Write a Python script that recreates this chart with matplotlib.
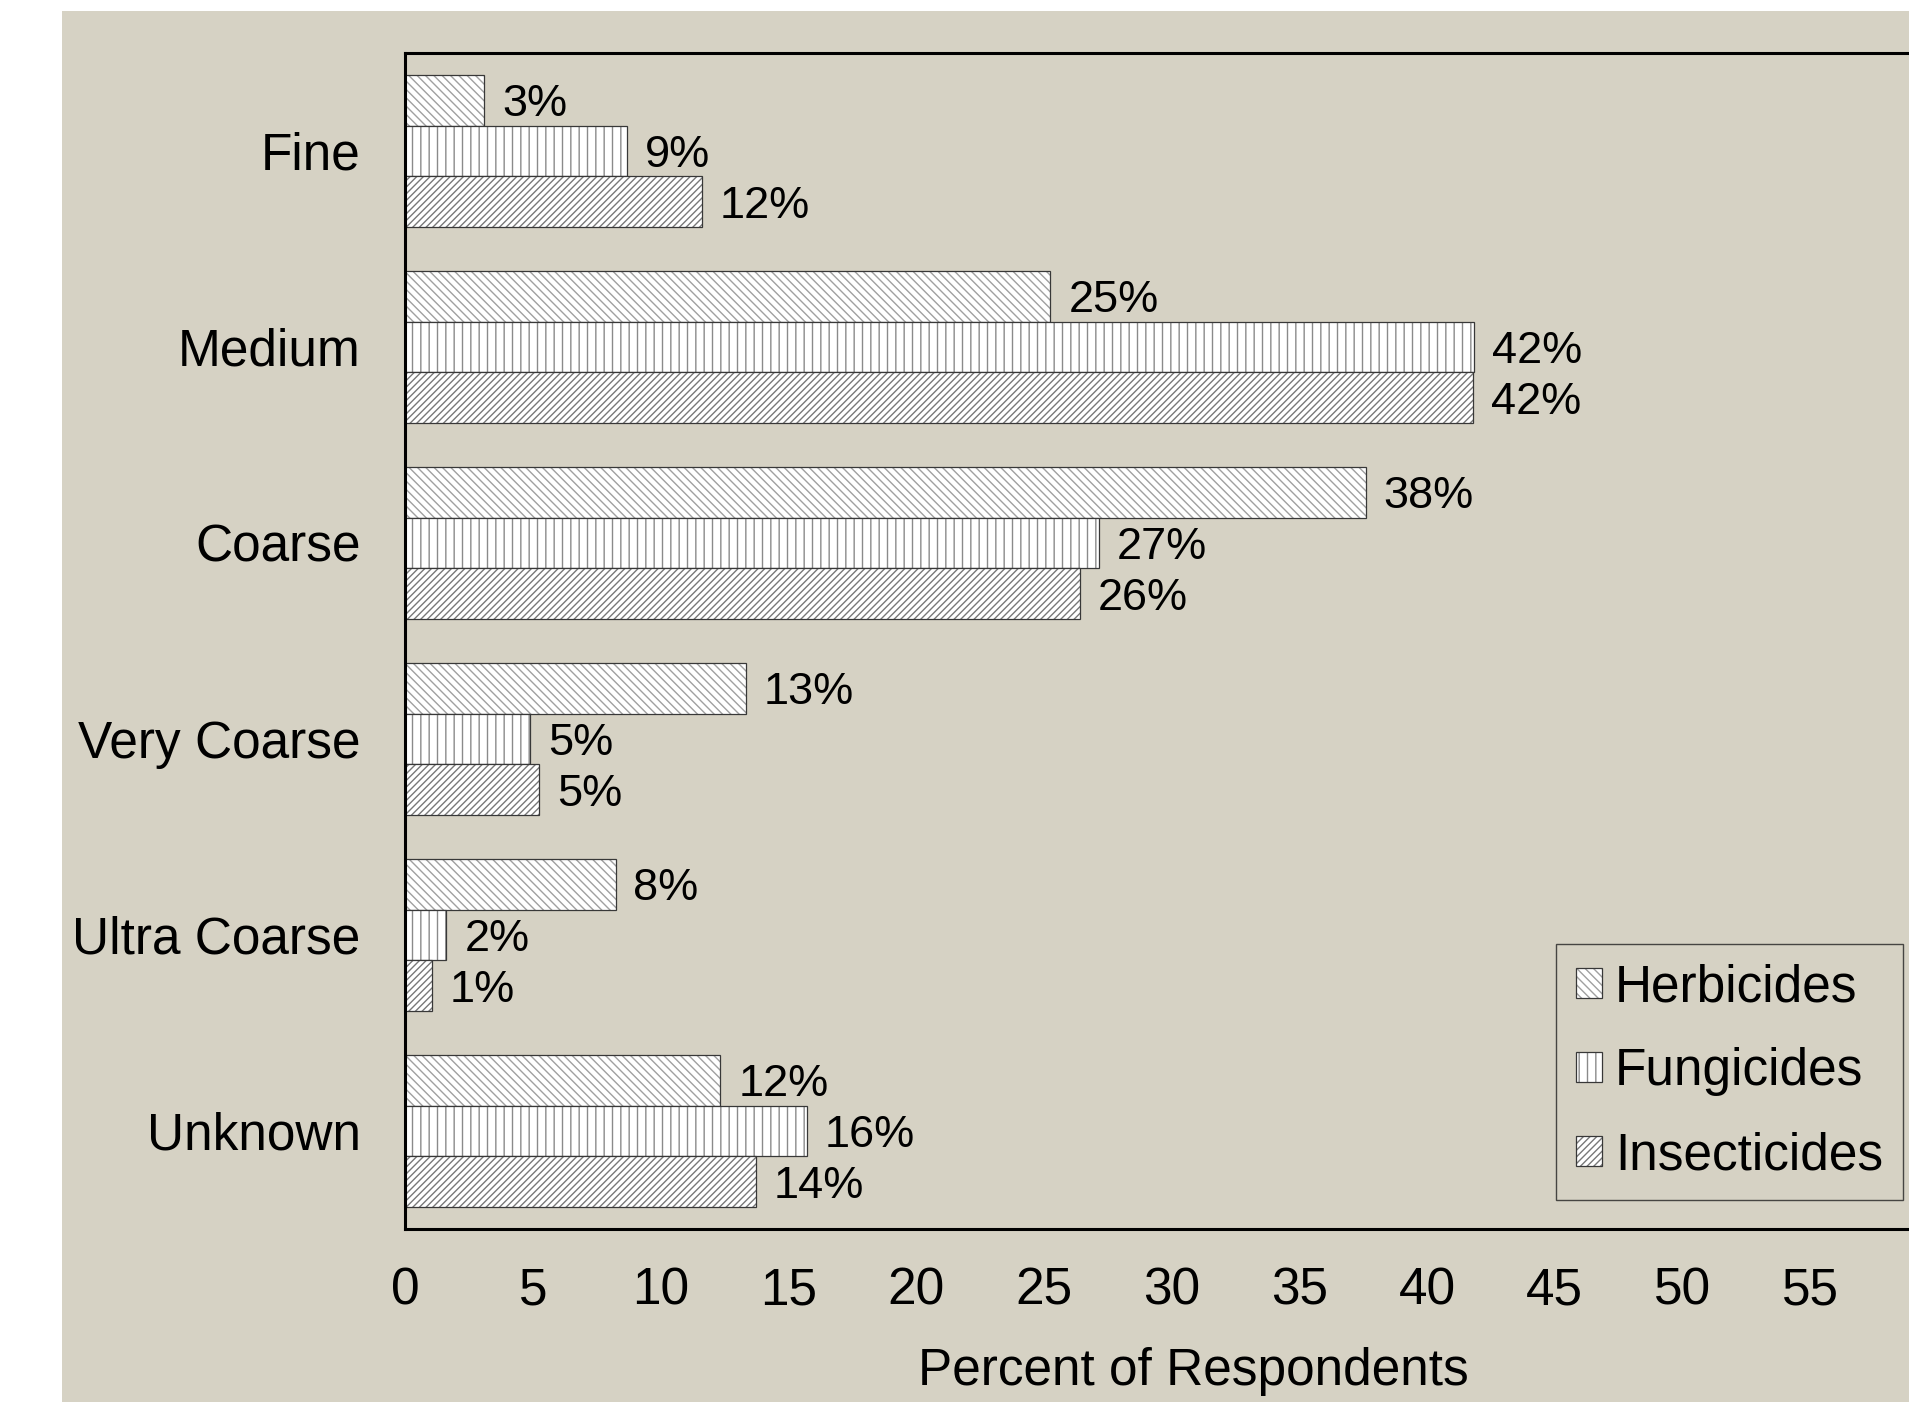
import numpy as np
import matplotlib
matplotlib.use("Agg")
import matplotlib.pyplot as plt
from matplotlib.patches import Rectangle, Patch
from matplotlib.legend_handler import HandlerTuple

plt.rcParams['font.family'] = ['Liberation Sans', 'DejaVu Sans']
plt.rcParams['hatch.linewidth'] = 1.0

# data
categories = ["Fine", "Medium", "Coarse", "Very Coarse", "Ultra Coarse", "Unknown"]
herbicides = [3.1, 25.26, 37.6, 13.34, 8.24, 12.34]
fungicides = [8.7, 41.83, 27.16, 4.91, 1.62, 15.72]
insecticides = [11.62, 41.79, 26.4, 5.24, 1.04, 13.72]
series_names = ["Herbicides", "Fungicides", "Insecticides"]
xticks = [0, 5, 10, 15, 20, 25, 30, 35, 40, 45, 50, 55]

bg = "#D6D2C4"
W, H = 1909, 1402
fig = plt.figure(figsize=(W / 100, H / 100), dpi=100)
fig.patch.set_facecolor("white")
fig.add_artist(Rectangle((62 / W, 0), 1, (H - 11) / H, transform=fig.transFigure,
                         facecolor=bg, edgecolor="none", zorder=-10))

ax = fig.add_axes([405 / W, (H - 1229) / H, 60 * 25.55 / W, 1176 / H])
ax.set_facecolor("none")

y = np.arange(len(categories))
bh = 0.26
series = [herbicides, fungicides, insecticides]
hatches = ["\\\\\\\\", "||", "/////"]
hatch_cols = ["#a0a0a0", "#8a8a8a", "#787878"]
offsets = [-bh, 0, bh]
edge = "#383838"

handles = []
for vals, name, hat, hc, off in zip(series, series_names, hatches, hatch_cols, offsets):
    # hatch in grey, outline drawn separately in dark grey
    ax.barh(y + off, vals, height=bh, color="white", edgecolor=hc, linewidth=0, hatch=hat)
    ax.barh(y + off, vals, height=bh, fill=False, edgecolor=edge, linewidth=0.9)
    for yi, v in zip(y + off, vals):
        ax.text(v + 0.7, yi, f"{round(v)}%", va="center_baseline", ha="left", fontsize=32.5)
    handles.append((Patch(facecolor="white", edgecolor=hc, linewidth=0, hatch=hat),
                    Patch(facecolor="none", edgecolor=edge, linewidth=0.9)))

ax.set_xlim(0, 60)
ax.set_ylim(5.5, -0.5)
ax.set_xticks(xticks)
ax.set_yticks(y)
ax.set_yticklabels(categories)
ax.tick_params(axis="both", length=0, labelsize=37)
ax.tick_params(axis="y", pad=32)
ax.tick_params(axis="x", pad=27)
for s in ["left", "top", "bottom"]:
    ax.spines[s].set_linewidth(2.2)
    ax.spines[s].set_color("black")
ax.spines["right"].set_visible(False)

ax.set_xlabel("Percent of Respondents", fontsize=37)
ax.xaxis.set_label_coords((1193 - 405) / (60 * 25.55), (1229 - 1372) / 1176)
ax.xaxis.label.set_va("center")

leg = ax.legend(handles, series_names, loc="upper left",
                bbox_to_anchor=(1556 / W, (H - 944) / H), bbox_transform=fig.transFigure,
                borderaxespad=0, fontsize=37, handlelength=0.52, handleheight=0.52,
                handletextpad=0.25, labelspacing=0.68, borderpad=0.38,
                fancybox=False, frameon=True,
                handler_map={tuple: HandlerTuple(ndivide=1, pad=0)})
fr = leg.get_frame()
fr.set_facecolor("none")
fr.set_edgecolor("#222222")
fr.set_linewidth(1.0)

fig.savefig("out.png", dpi=100)
